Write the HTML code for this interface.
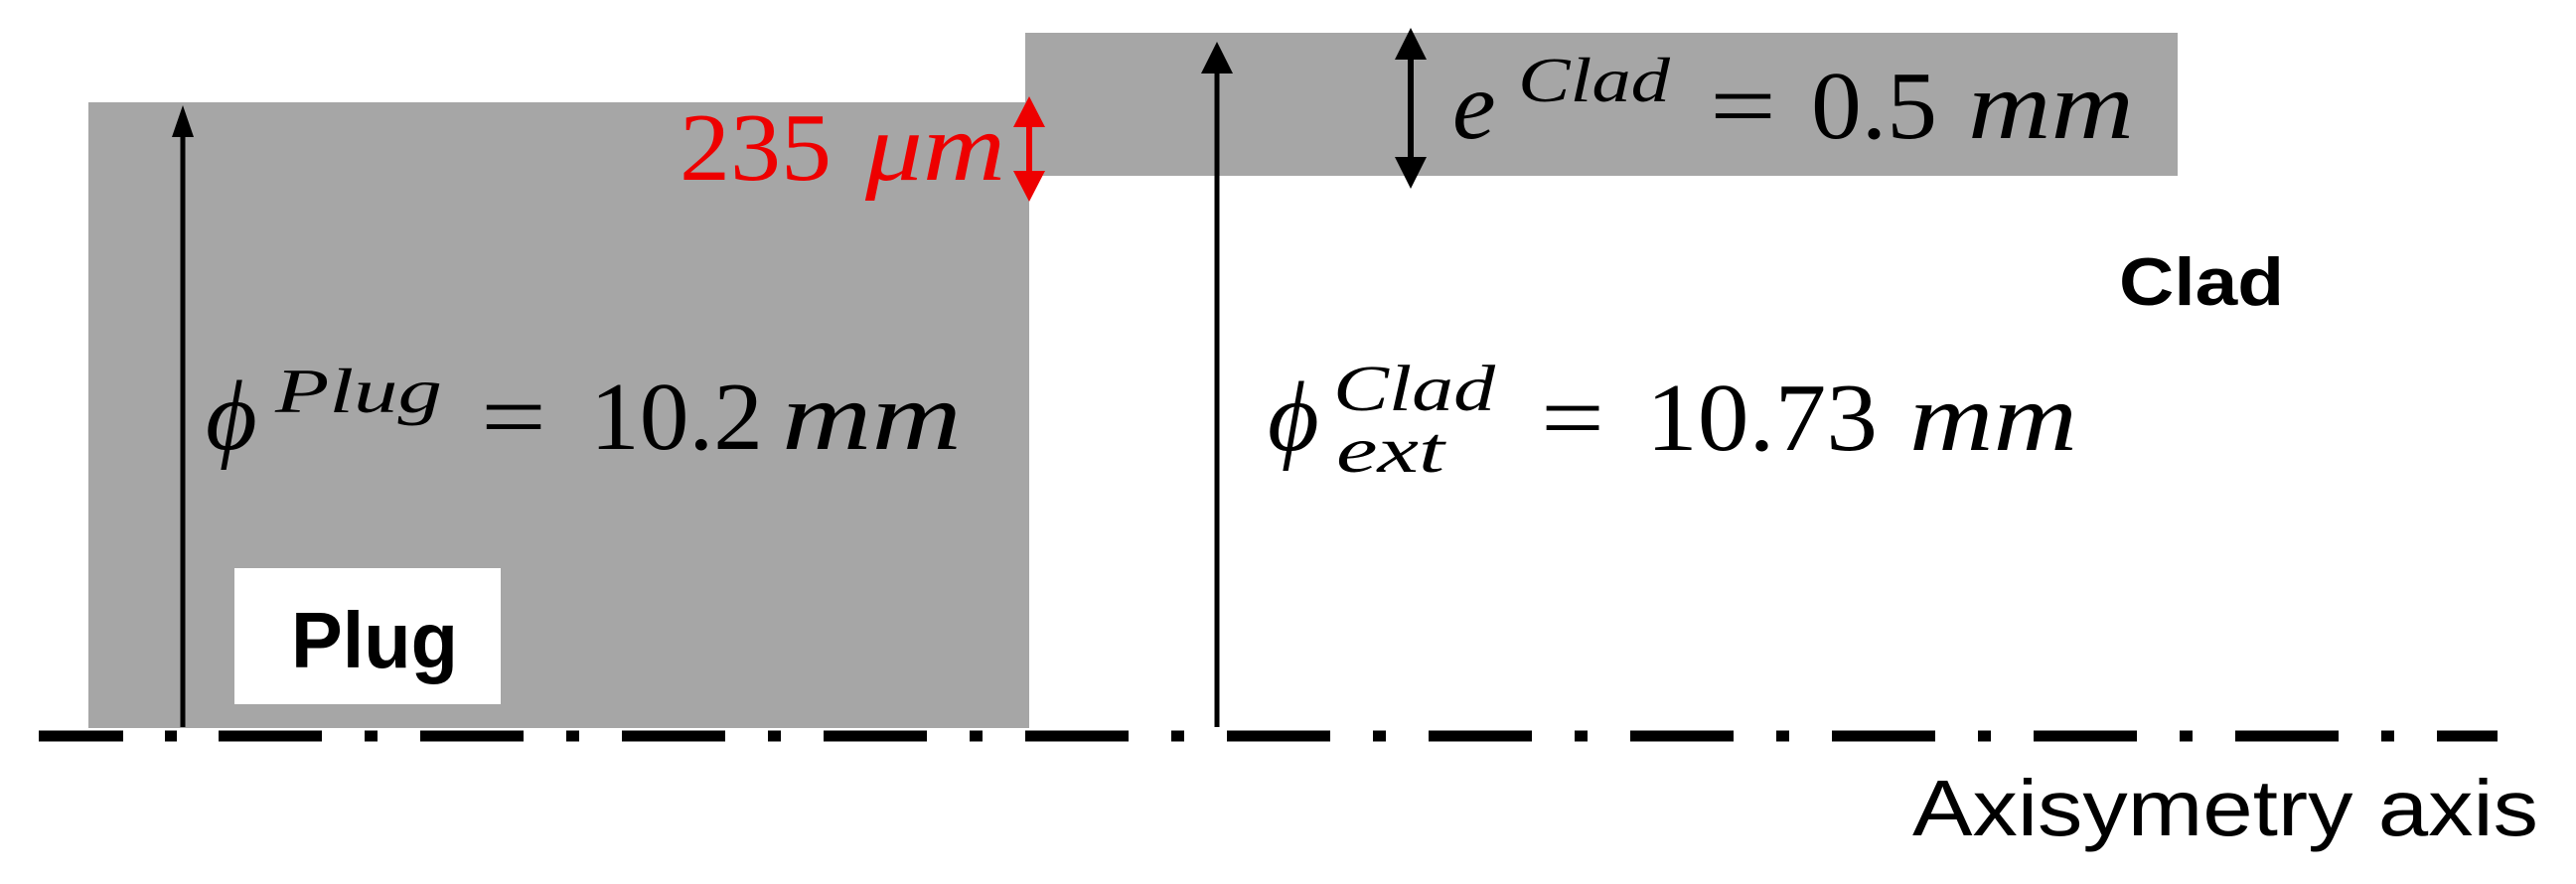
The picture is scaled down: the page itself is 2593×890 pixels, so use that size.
<!DOCTYPE html>
<html><head><meta charset="utf-8"><style>
html,body{margin:0;padding:0;background:#fff;}
svg{display:block;}
</style></head><body>
<svg width="2593" height="890" viewBox="0 0 2593 890" xmlns="http://www.w3.org/2000/svg">
<rect x="89" y="103" width="947" height="630" fill="#a6a6a6"/>
<rect x="1032" y="33" width="1160" height="144" fill="#a6a6a6"/>
<rect x="236" y="572" width="268" height="137" fill="#fff"/>
<text x="293" y="672" font-family="Liberation Sans, sans-serif" font-weight="bold" font-size="80" textLength="168" lengthAdjust="spacingAndGlyphs">Plug</text>
<text x="2133" y="307" font-family="Liberation Sans, sans-serif" font-weight="bold" font-size="68" textLength="166" lengthAdjust="spacingAndGlyphs">Clad</text>

<line x1="184" y1="135" x2="184" y2="732" stroke="#000" stroke-width="5"/>
<polygon points="184,106 173,138 195,138" fill="#000"/>
<line x1="1225" y1="70" x2="1225" y2="732" stroke="#000" stroke-width="5"/>
<polygon points="1225,42 1209,74 1241,74" fill="#000"/>
<line x1="1420" y1="55" x2="1420" y2="165" stroke="#000" stroke-width="6"/>
<polygon points="1420,28 1404,60 1436,60" fill="#000"/>
<polygon points="1420,190 1404,158 1436,158" fill="#000"/>
<line x1="1036" y1="120" x2="1036" y2="180" stroke="#e00" stroke-width="6"/>
<polygon points="1036,97 1020,128 1052,128" fill="#e00"/>
<polygon points="1036,203 1020,172 1052,172" fill="#e00"/>

<line x1="39" y1="741" x2="124" y2="741" stroke="#000" stroke-width="11"/>
<line x1="166" y1="741" x2="178" y2="741" stroke="#000" stroke-width="11"/>
<line x1="220" y1="741" x2="2514" y2="741" stroke="#000" stroke-width="11" stroke-dasharray="104 43 13 43"/>

<g font-family="Liberation Serif, serif" fill="#000">
<!-- 235 um -->
<text x="684" y="181" fill="#e00" font-size="98" textLength="153" lengthAdjust="spacingAndGlyphs">235</text>
<text x="871" y="181" fill="#e00" font-size="98" font-style="italic" textLength="141" lengthAdjust="spacingAndGlyphs">μm</text>

<!-- phi plug -->
<text x="207" y="452" font-size="100" font-style="italic">ϕ</text>
<text x="277" y="415" font-size="64" font-style="italic" textLength="168" lengthAdjust="spacingAndGlyphs">Plug</text>
<text x="484" y="452" font-size="98" textLength="66" lengthAdjust="spacingAndGlyphs">=</text>
<text x="594" y="452" font-size="98" textLength="174" lengthAdjust="spacingAndGlyphs">10.2</text>
<text x="787" y="452" font-size="98" font-style="italic" textLength="181" lengthAdjust="spacingAndGlyphs">mm</text>

<!-- e clad -->
<text x="1462" y="139" font-size="98" font-style="italic">e</text>
<text x="1528" y="102" font-size="64" font-style="italic" textLength="153" lengthAdjust="spacingAndGlyphs">Clad</text>
<text x="1721" y="139" font-size="98" textLength="67" lengthAdjust="spacingAndGlyphs">=</text>
<text x="1823" y="139" font-size="98" textLength="127" lengthAdjust="spacingAndGlyphs">0.5</text>
<text x="1981" y="139" font-size="98" font-style="italic" textLength="167" lengthAdjust="spacingAndGlyphs">mm</text>

<!-- phi ext clad -->
<text x="1276" y="453" font-size="100" font-style="italic">ϕ</text>
<text x="1342" y="413" font-size="66" font-style="italic" textLength="163" lengthAdjust="spacingAndGlyphs">Clad</text>
<text x="1345" y="475" font-size="66" font-style="italic" textLength="109" lengthAdjust="spacingAndGlyphs">ext</text>
<text x="1551" y="453" font-size="98" textLength="64" lengthAdjust="spacingAndGlyphs">=</text>
<text x="1657" y="453" font-size="98" textLength="233" lengthAdjust="spacingAndGlyphs">10.73</text>
<text x="1922" y="453" font-size="98" font-style="italic" textLength="169" lengthAdjust="spacingAndGlyphs">mm</text>
</g>

<text x="1925" y="841" font-family="Liberation Sans, sans-serif" font-size="80" textLength="630" lengthAdjust="spacingAndGlyphs">Axisymetry axis</text>
</svg>
</body></html>
